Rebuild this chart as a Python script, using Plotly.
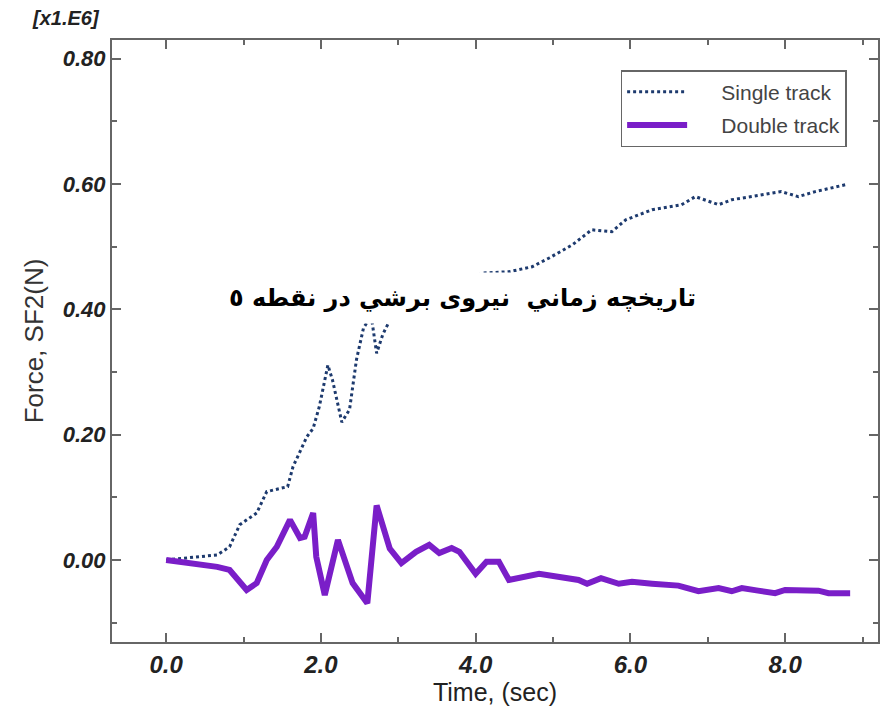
import plotly.graph_objects as go

# Single track (dotted) — time [s], force [x1e6 N]
single_t = [0.0, 0.66, 0.82, 0.95, 1.17, 1.30, 1.57, 1.64, 1.82, 1.90, 1.98, 2.09, 2.15,
            2.27, 2.37, 2.46, 2.55, 2.65, 2.72, 2.80, 2.90, 3.10, 3.50, 4.00, 4.08, 4.43,
            4.73, 4.95, 5.25, 5.50, 5.76, 5.94, 6.28, 6.66, 6.84, 7.14, 7.31, 7.74, 7.95,
            8.17, 8.39, 8.78]
single_f = [0.0, 0.008, 0.021, 0.056, 0.075, 0.109, 0.117, 0.149, 0.197, 0.21, 0.245, 0.311,
            0.287, 0.22, 0.24, 0.32, 0.37, 0.39, 0.33, 0.36, 0.385, 0.39, 0.42, 0.45, 0.458,
            0.46, 0.468, 0.482, 0.503, 0.527, 0.524, 0.543, 0.559, 0.567, 0.58, 0.567,
            0.575, 0.583, 0.588, 0.58, 0.588, 0.599]

# Double track (solid)
double_t = [0.0, 0.30, 0.66, 0.82, 0.92, 1.04, 1.17, 1.30, 1.43, 1.60, 1.73, 1.79, 1.90,
            1.94, 2.05, 2.22, 2.41, 2.60, 2.72, 2.89, 3.04, 3.23, 3.40, 3.53, 3.69, 3.79,
            4.00, 4.14, 4.30, 4.43, 4.82, 5.04, 5.33, 5.44, 5.62, 5.85, 6.02, 6.28, 6.62,
            6.88, 7.14, 7.31, 7.44, 7.65, 7.87, 8.00, 8.43, 8.56, 8.84]
double_f = [0.0, -0.004, -0.011, -0.016, -0.03, -0.048, -0.037, 0.0, 0.021, 0.064, 0.035,
            0.037, 0.075, 0.005, -0.056, 0.032, -0.037, -0.069, 0.087, 0.018, -0.005, 0.013,
            0.024, 0.011, 0.019, 0.013, -0.022, -0.003, -0.003, -0.032, -0.022, -0.027,
            -0.032, -0.038, -0.029, -0.038, -0.035, -0.038, -0.041, -0.05, -0.045, -0.05,
            -0.045, -0.049, -0.053, -0.048, -0.049, -0.053, -0.053]

x_ticks = [0, 2, 4, 6, 8]
x_tick_labels = ["0.0", "2.0", "4.0", "6.0", "8.0"]
y_ticks = [0.0, 0.2, 0.4, 0.6, 0.8]
y_tick_labels = ["0.00", "0.20", "0.40", "0.60", "0.80"]

pad = "\u00a0" * 5

fig = go.Figure()
fig.add_trace(go.Scatter(x=single_t, y=single_f, mode="lines", name=pad + "Single track",
                         legendgroup="a",
                         line=dict(color="#1d3a6e", width=3, dash="3px,3px")))
fig.add_trace(go.Scatter(x=double_t, y=double_f, mode="lines", name=pad + "Double track",
                         legendgroup="b",
                         line=dict(color="#7a1ec8", width=6)))

axis_common = dict(showline=True, mirror="ticks", linecolor="#666", linewidth=2,
                   ticks="inside", ticklen=9, tickwidth=1.5, tickcolor="#666",
                   showgrid=False, zeroline=False)

fig.update_xaxes(range=[-0.7, 9.2], tickvals=x_ticks, ticktext=x_tick_labels,
                 tickfont=dict(family="Arial, Liberation Sans", size=24,
                               color="#222", weight="bold", style="italic"),
                 title=dict(text="Time, (sec)",
                            font=dict(family="Arial, Liberation Sans",
                                      size=25, color="#222"), standoff=4),
                 minor=dict(dtick=1, tick0=0, ticks="inside", ticklen=5, tickcolor="#666"),
                 **axis_common)
fig.update_yaxes(range=[-0.131, 0.83], tickvals=y_ticks, ticktext=y_tick_labels,
                 tickfont=dict(family="Arial, Liberation Sans", size=22, color="#222",
                               weight="bold", style="italic"),
                 title=dict(text="Force, SF2(N)", font=dict(family="Arial, Liberation Sans",
                                                           size=26, color="#333"), standoff=12),
                 minor=dict(dtick=0.1, tick0=0, ticks="inside", ticklen=5, tickcolor="#666"),
                 **axis_common)

fig.add_annotation(text="[x1.E6]", xref="paper", yref="paper", x=-0.107, y=1.015,
                   xanchor="left", yanchor="bottom", showarrow=False,
                   font=dict(family="Arial, Liberation Sans", size=20, color="#222",
                             weight="bold", style="italic"))

fig.add_annotation(text="تاریخچه زماني  نیروی برشي در نقطه ٥", x=3.83, y=0.418,
                   xref="x", yref="y", showarrow=False, bgcolor="white", borderpad=11,
                   font=dict(family="DejaVu Sans", size=24, color="black", weight="bold"))

fig.update_layout(
    width=880, height=699,
    margin=dict(l=104, r=8, t=32, b=65),
    paper_bgcolor="white", plot_bgcolor="white",
    legend=dict(x=0.664, y=0.95, xanchor="left", yanchor="top",
                bordercolor="#666", borderwidth=1.5, bgcolor="white",
                font=dict(family="Arial, Liberation Sans", size=21, color="#444"),
                itemwidth=60, tracegroupgap=3),
)

fig.write_html("out.html")
